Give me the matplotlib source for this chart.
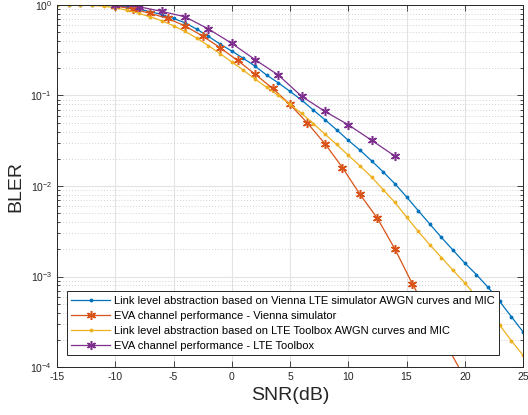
import matplotlib
matplotlib.use("Agg")
import matplotlib.pyplot as plt
import numpy as np
from matplotlib.ticker import LogLocator, NullFormatter

plt.rcParams['font.family'] = ['Liberation Sans', 'DejaVu Sans']

# ---------------- data ----------------
snr_blue = list(range(-15, 26))
bler_blue = [1.0, 1.0, 1.0, 0.998, 0.99, 0.978, 0.945, 0.9, 0.845, 0.785,
             0.71, 0.635, 0.54, 0.45, 0.37, 0.31, 0.257, 0.211, 0.168, 0.138,
             0.111, 0.089, 0.069, 0.054, 0.0418, 0.032, 0.0249, 0.019, 0.0143, 0.0106,
             0.0076, 0.00535, 0.0038, 0.0027, 0.00195, 0.00141, 0.00105, 7.6e-4, 5.3e-4, 3.6e-4,
             2.45e-4]

snr_orange = [-10, -8.5, -7, -5.5, -4, -2.5, -1, 0.5, 2, 3.5, 5, 6.5, 8, 9.5,
              11, 12.5, 14, 15.5, 17, 18.5, 20]
bler_orange = [0.98, 0.90, 0.81, 0.71, 0.586, 0.454, 0.337, 0.244, 0.172, 0.12,
               0.0797, 0.0495, 0.0293, 0.016, 0.0081, 0.0044, 0.00202, 8.3e-4,
               3.7e-4, 1.7e-4, 7.5e-5]

snr_yellow = list(range(-15, 26))
bler_yellow = [1.0, 1.0, 0.998, 0.99, 0.97, 0.93, 0.875, 0.81, 0.74, 0.67,
               0.59, 0.51, 0.43, 0.355, 0.29, 0.235, 0.19, 0.152, 0.123, 0.1,
               0.0797, 0.0634, 0.049, 0.0374, 0.0288, 0.0219, 0.0167, 0.0126, 0.0091, 0.0066,
               0.00455, 0.00316, 0.00224, 0.00162, 0.00117, 8.5e-4, 6.0e-4, 4.2e-4, 2.9e-4, 1.95e-4,
               1.35e-4]

snr_purple = [-10, -8, -6, -4, -2, 0, 2, 4, 6, 8, 10, 12, 14]
bler_purple = [0.99, 0.958, 0.85, 0.74, 0.543, 0.377, 0.249, 0.168, 0.098,
               0.0667, 0.0475, 0.032, 0.0214]

labels = ["Link level abstraction based on Vienna LTE simulator AWGN curves and MIC",
          "EVA channel performance - Vienna simulator",
          "Link level abstraction based on LTE Toolbox AWGN curves and MIC",
          "EVA channel performance - LTE Toolbox"]

x_ticks = [-15, -10, -5, 0, 5, 10, 15, 20, 25]

c_blue = '#0072BD'
c_orange = '#D95319'
c_yellow = '#EDB120'
c_purple = '#7E2F8E'

# ---------------- figure ----------------
fig = plt.figure(figsize=(5.28, 4.15), dpi=100)
ax = fig.add_axes([57/528, 48/415, 466/528, 362/415])

ast = (6, 2, 0)  # asterisk marker (MATLAB-like '*')

ax.plot(snr_blue, bler_blue, '-', color=c_blue, lw=0.9, marker='.', ms=3.5, label=labels[0])
ax.plot(snr_orange, bler_orange, '-', color=c_orange, lw=0.9, marker=ast, ms=6.5, mew=1.1,
        label=labels[1])
ax.plot(snr_yellow, bler_yellow, '-', color=c_yellow, lw=0.9, marker='.', ms=3.5, label=labels[2])
ax.plot(snr_purple, bler_purple, '-', color=c_purple, lw=0.9, marker=ast, ms=6.5, mew=1.1,
        label=labels[3])

ax.set_yscale('log')
ax.set_xlim(-15, 25)
ax.set_ylim(1e-4, 1)
ax.set_xticks(x_ticks)
ax.set_xticklabels([str(t) for t in x_ticks])
ax.yaxis.set_major_locator(LogLocator(base=10, numticks=10))
ax.yaxis.set_minor_locator(LogLocator(base=10, subs=np.arange(2, 10), numticks=20))
ax.yaxis.set_minor_formatter(NullFormatter())

ax.grid(which='major', axis='both', color='#e3e3e3', lw=0.8, ls='-')
ax.grid(which='minor', axis='y', color='#c4c4c4', lw=0.6, ls=(0, (1, 2.5)))
ax.set_axisbelow(True)

ax.tick_params(which='both', direction='in', top=True, right=True, colors='#262626',
               labelsize=7.5, width=0.6)
ax.tick_params(which='major', length=4)
ax.tick_params(which='minor', length=2)
for s in ax.spines.values():
    s.set_color('#262626')
    s.set_linewidth(0.7)

ax.set_xlabel('SNR(dB)', fontsize=14, color='#262626', labelpad=4)
ax.set_ylabel('BLER', fontsize=14, color='#262626', labelpad=4)

leg = ax.legend(loc='lower left', bbox_to_anchor=(0.0208, 0.033, 0.927, 0.187), mode='expand',
                fontsize=8.0, frameon=True, fancybox=False, framealpha=1, edgecolor='#262626',
                handlelength=3.5, handletextpad=0.36, borderaxespad=0, labelspacing=0.44,
                borderpad=0.4, numpoints=1)
leg.get_frame().set_linewidth(0.7)

fig.savefig('out.png', dpi=100)
